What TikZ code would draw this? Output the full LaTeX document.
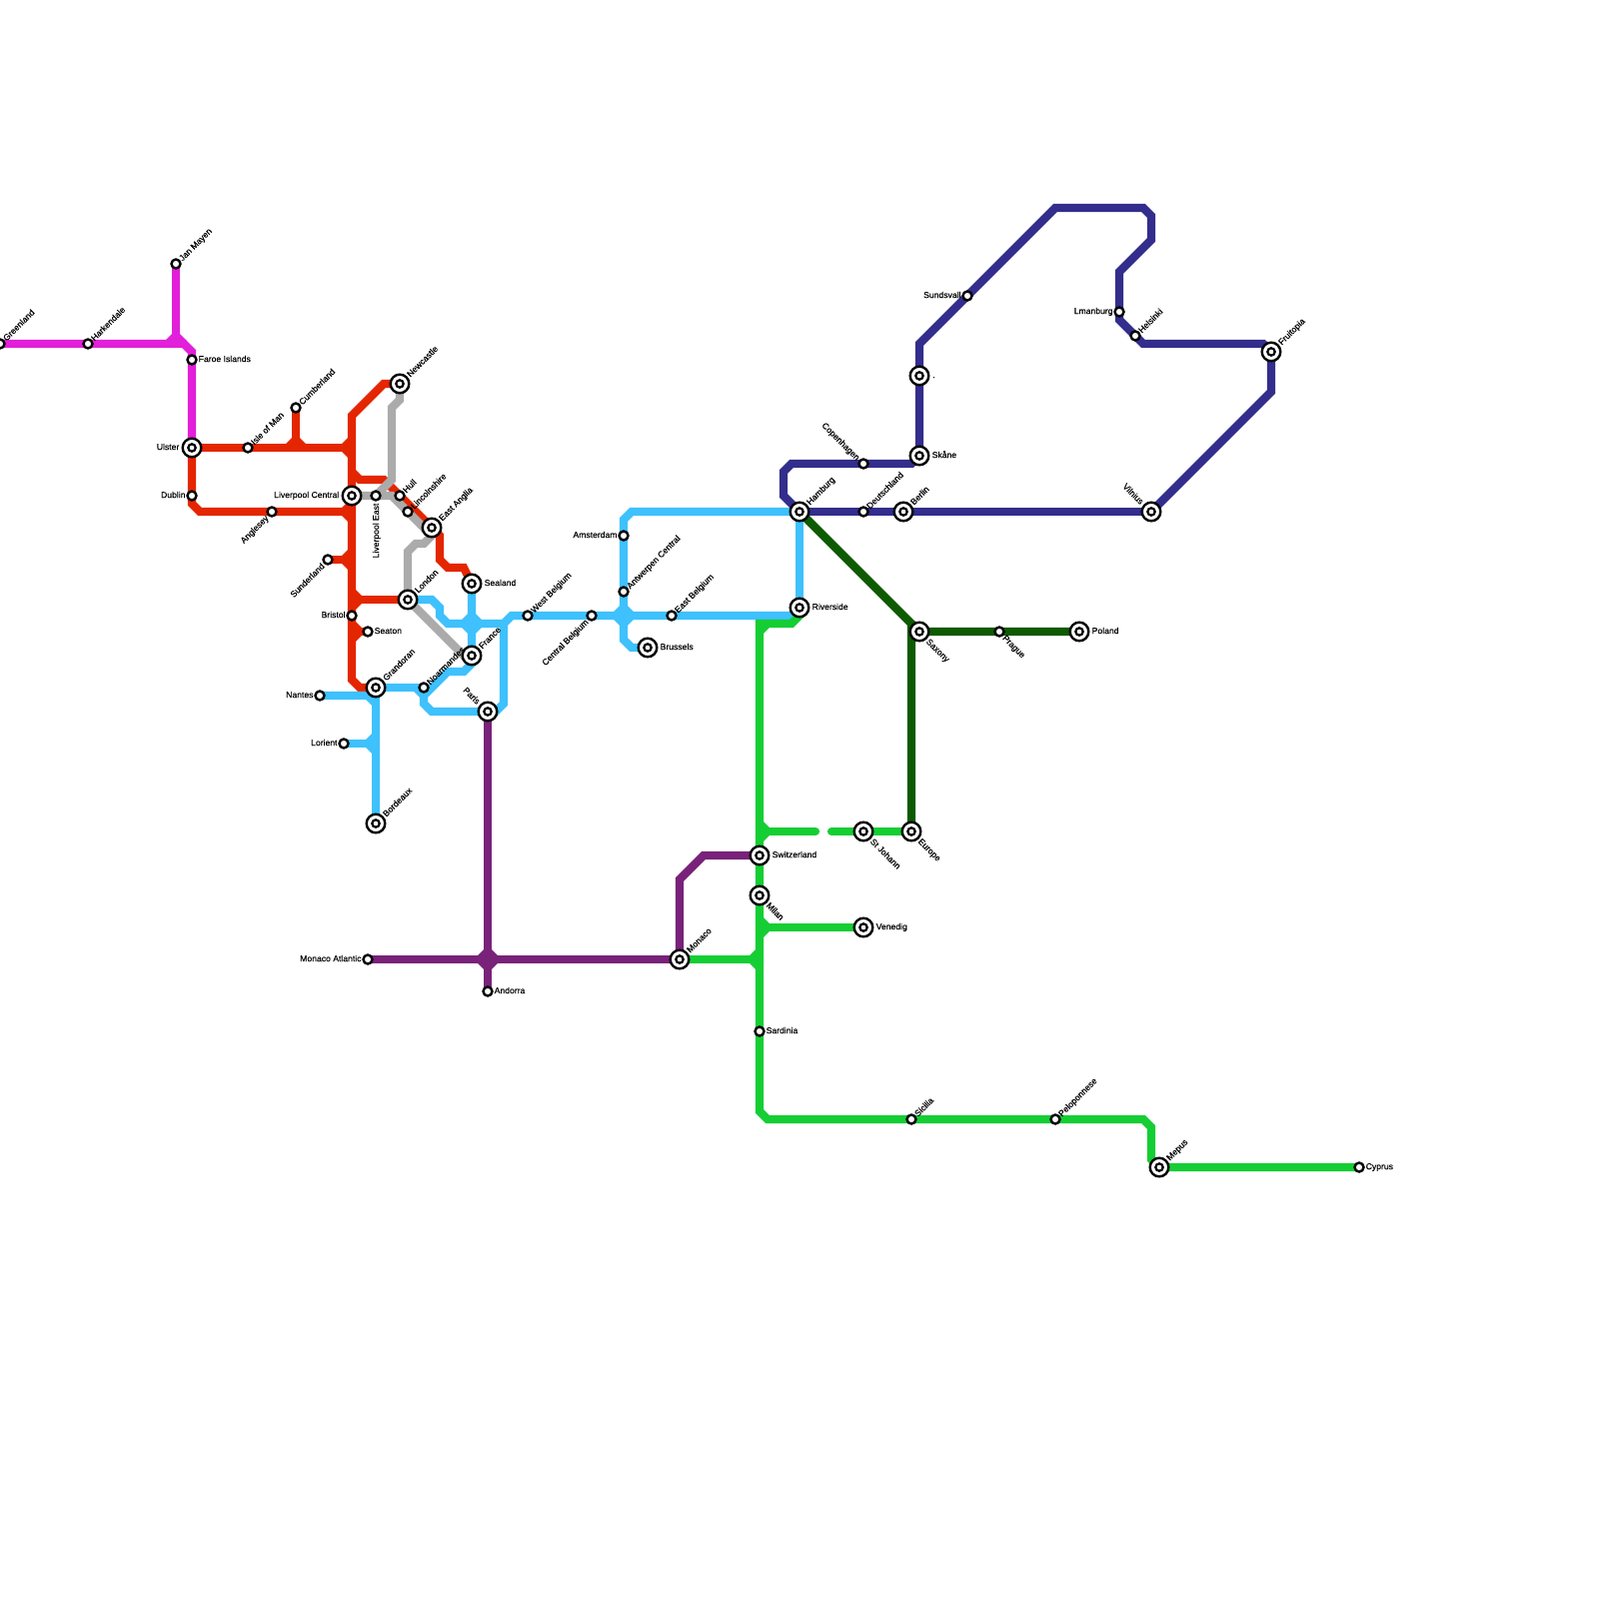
\documentclass[tikz,border=0pt]{standalone}
\usepackage{fontspec}
\setmainfont{Liberation Sans}
\newfontfamily\lblfont[FakeBold=0.25]{Liberation Sans}
\usepackage{tikz}
\usetikzlibrary{backgrounds}
\definecolor{lineMagenta}{RGB}{226,31,217}
\definecolor{lineRed}{RGB}{228,38,0}
\definecolor{lineGray}{RGB}{171,171,171}
\definecolor{lineBlue}{RGB}{62,193,252}
\definecolor{linePurple}{RGB}{121,34,122}
\definecolor{lineNavy}{RGB}{51,45,140}
\definecolor{lineForest}{RGB}{14,90,2}
\definecolor{lineGreen}{RGB}{21,206,52}
\tikzset{
  metro/.style={draw=#1, line width=0.082cm, line join=miter},
  stn/.style={circle, draw=black, fill=white, line width=0.024cm,
              minimum size=0.09cm, inner sep=0pt},
  hub/.style={stn, minimum size=0.186cm,
              path picture={\draw[black, line width=0.022cm]
                (path picture bounding box.center) circle (0.037cm);}},
  lbl/.style={inner sep=0pt, font=\lblfont\fontsize{2.45}{3}\selectfont,
              text height=0.062cm, text depth=0pt},
  lblr/.style={lbl, xshift=#1, yshift=0.01cm, anchor=west},
  lblr/.default=0.06cm,
  lbll/.style={lbl, xshift=-#1, yshift=0.01cm, anchor=east},
  lbll/.default=0.058cm,
  lblne/.style={lbl, xshift=#1, yshift=#1, rotate=45, anchor=west},
  lblne/.default=0.04cm,
  lblse/.style={lbl, xshift=#1, yshift=-#1, rotate=-45, anchor=west},
  lblse/.default=0.045cm,
  lblnw/.style={lbl, xshift=-#1, yshift=#1, rotate=-45, anchor=east},
  lblnw/.default=0.045cm,
  lblsw/.style={lbl, xshift=-#1, yshift=-#1, rotate=45, anchor=east},
  lblsw/.default=0.045cm,
}
\begin{document}
\begin{tikzpicture}[x=0.08cm, y=-0.08cm]
  \useasboundingbox (0,0) rectangle (200,200);

  % north west
  \node[stn] (sGreenland)  at (0,43)  {};
  \node[stn] (sHarkendale) at (11,43) {};
  \node[stn] (sJanMayen)   at (22,33) {};
  \node[stn] (sFaroe)      at (24,45) {};
  \node[hub] (sUlster)     at (24,56) {};
  \node[stn] (sDublin)     at (24,62) {};
  \node[stn] (sIsleOfMan)  at (31,56) {};
  \node[stn] (sAnglesey)   at (34,64) {};
  \node[stn] (sCumberland) at (37,51) {};
  \node[stn] (sSunderland) at (41,70) {};
  \node[hub] (sLivCentral) at (44,62) {};
  \node[stn] (sLivEast)    at (47,62) {};
  \node[stn] (sHull)       at (50,62) {};
  \node[stn] (sLincoln)    at (51,64) {};
  \node[hub] (sNewcastle)  at (50,48) {};
  \node[hub] (sEastAnglia) at (54,66) {};
  \node[hub] (sSealand)    at (59,73) {};
  \node[hub] (sLondon)     at (51,75) {};
  \node[stn] (sBristol)    at (44,77) {};
  \node[stn] (sSeaton)     at (46,79) {};
  \node[hub] (sGrandoran)  at (47,86) {};
  \node[stn] (sNantes)     at (40,87) {};
  \node[stn] (sLorient)    at (43,93) {};
  \node[hub] (sBordeaux)   at (47,103) {};
  \node[stn] (sNoarmandes) at (53,86) {};
  \node[hub] (sFrance)     at (59,82) {};
  \node[hub] (sParis)      at (61,89) {};

  % belgium and the middle
  \node[stn] (sWestBelgium)    at (66,77) {};
  \node[stn] (sCentralBelgium) at (74,77) {};
  \node[stn] (sAmsterdam)      at (78,67) {};
  \node[stn] (sAntwerpen)      at (78,74) {};
  \node[stn] (sEastBelgium)    at (84,77) {};
  \node[hub] (sBrussels)       at (81,81) {};
  \node[hub] (sHamburg)        at (100,64) {};
  \node[hub] (sRiverside)      at (100,76) {};

  % south
  \node[stn] (sMonacoAtlantic) at (46,120) {};
  \node[stn] (sAndorra)        at (61,124) {};
  \node[hub] (sMonaco)         at (85,120) {};
  \node[hub] (sSwitzerland)    at (95,107) {};
  \node[hub] (sMilan)          at (95,112) {};
  \node[stn] (sSardinia)       at (95,129) {};
  \node[hub] (sStJohann)       at (108,104) {};
  \node[hub] (sVenedig)        at (108,116) {};
  \node[hub] (sEurope)         at (114,104) {};
  \node[stn] (sSicilia)        at (114,140) {};
  \node[stn] (sPeloponnese)    at (132,140) {};
  \node[hub] (sMepus)          at (145,146) {};
  \node[stn] (sCyprus)         at (170,146) {};

  % north east
  \node[stn] (sCopenhagen)  at (108,58) {};
  \node[stn] (sDeutschland) at (108,64) {};
  \node[hub] (sBerlin)      at (113,64) {};
  \node[hub] (sSkane)       at (115,57) {};
  \node[hub] (sDot)         at (115,47) {};
  \node[stn] (sSundsvall)   at (121,37) {};
  \node[stn] (sLmanburg)    at (140,39) {};
  \node[stn] (sHelsinki)    at (142,42) {};
  \node[hub] (sFruitopia)   at (159,44) {};
  \node[hub] (sVilnius)     at (144,64) {};
  \node[hub] (sSaxony)      at (115,79) {};
  \node[stn] (sPrague)      at (125,79) {};
  \node[hub] (sPoland)      at (135,79) {};

  % junctions on the lines
  \coordinate (jJanMayen)   at (22,42);
  \coordinate (jCumberland) at (37,55);
  \coordinate (jNorthRed)   at (43,56);
  \coordinate (jMidRed)     at (43,64);
  \coordinate (jSunderland) at (43,70);
  \coordinate (jHullRed)    at (45,60);
  \coordinate (jLondonRed)  at (45,75);
  \coordinate (jSeatonRed)  at (45,79);
  \coordinate (jGrayFork)   at (47,62);
  \coordinate (jGrayEast)   at (49,62);
  \coordinate (jSealand)    at (59,78);
  \coordinate (jEastBlue)   at (63,78);
  \coordinate (jAntwerpen)  at (78,77);
  \coordinate (jNantes)     at (46,87);
  \coordinate (jNoarmandes) at (53,87);
  \coordinate (jLorient)    at (46,93);
  \coordinate (jAndorra)    at (61,120);
  \coordinate (jGreenTop)   at (95,78);
  \coordinate (jGreenEnd)   at (102,104);
  \coordinate (jGreenStart) at (104,104);
  \coordinate (jStJohann)   at (96,104);
  \coordinate (jVenedig)    at (96,116);
  \coordinate (jMonaco)     at (94,120);
  \coordinate (jForest)     at (114,78);

  \begin{scope}[on background layer]
    % magenta
    \draw[metro=lineMagenta] (sGreenland.center) -- (sHarkendale.center) -- (23,43) -- (24,44) -- (sFaroe.center) -- (sUlster.center);
    \draw[metro=lineMagenta] (sJanMayen.center) -- (jJanMayen);
    \draw[metro=lineMagenta] (jJanMayen) ++(-1,1) -- ++(1,-1) -- ++(1,1);

    % red
    \draw[metro=lineRed] (sUlster.center) -- (sIsleOfMan.center) -- (jNorthRed);
    \draw[metro=lineRed] (jNorthRed) ++(1,-1) -- ++(-1,1) -- ++(1,1);
    \draw[metro=lineRed] (sCumberland.center) -- (jCumberland);
    \draw[metro=lineRed] (jCumberland) ++(-1,1) -- ++(1,-1) -- ++(1,1);
    \draw[metro=lineRed] (sUlster.center) -- (sDublin.center) -- (24,63) -- (25,64) -- (sAnglesey.center) -- (jMidRed);
    \draw[metro=lineRed] (jMidRed) ++(1,-1) -- ++(-1,1) -- ++(1,1);
    \draw[metro=lineRed] (sSunderland.center) -- (jSunderland);
    \draw[metro=lineRed] (jSunderland) ++(1,-1) -- ++(-1,1) -- ++(1,1);
    \draw[metro=lineRed] (sNewcastle.center) -- (48,48) -- (44,52) -- (sLivCentral.center) -- (sBristol.center) -- (44,85) -- (45,86) -- (sGrandoran.center);
    \draw[metro=lineRed] (44,59) -- (jHullRed) -- (48,60) -- (sEastAnglia.center) -- (55,67) -- (55,70) -- (56,71) -- (58,71) -- (sSealand.center);
    \draw[metro=lineRed] (jLondonRed) ++(-1,-1) -- ++(1,1) -- ++(-1,1);
    \draw[metro=lineRed] (jLondonRed) -- (sLondon.center);
    \draw[metro=lineRed] (jSeatonRed) ++(-1,-1) -- ++(1,1) -- ++(-1,1);
    \draw[metro=lineRed] (jSeatonRed) -- (sSeaton.center);

    % gray
    \draw[metro=lineGray] (sNewcastle.center) -- (50,50) -- (49,51) -- (49,60) -- (jGrayFork) -- (sLivEast.center) -- (sLivCentral.center);
    \draw[metro=lineGray] (jGrayFork) -- (jGrayEast) -- (53,66) -- (sEastAnglia.center);
    \draw[metro=lineGray] (sEastAnglia.center) -- (54,67) -- (53,68) -- (52,68) -- (51,69) -- (sLondon.center);
    \draw[metro=lineGray] (sLondon.center) -- (58,82) -- (sFrance.center);

    % blue
    \draw[metro=lineBlue] (sLondon.center) -- (54,75) -- (55,76) -- (55,77) -- (56,78) -- (jEastBlue) -- (64,77) -- (sWestBelgium.center) -- (sCentralBelgium.center) -- (sEastBelgium.center) -- (99,77) -- (sRiverside.center);
    \draw[metro=lineBlue] (sSealand.center) -- (sFrance.center) -- (59,83) -- (58,84) -- (56,84) -- (jNoarmandes) -- (53,88) -- (54,89) -- (sParis.center);
    \draw[metro=lineBlue] (jSealand) ++(-1,0) -- ++(1,-1) -- ++(1,1) -- ++(-1,1) -- cycle;
    \draw[metro=lineBlue] (jEastBlue) -- (63,88) -- (62,89) -- (sParis.center);
    \draw[metro=lineBlue] (sGrandoran.center) -- (sNoarmandes.center);
    \draw[metro=lineBlue] (52,86) -- (jNoarmandes);
    \draw[metro=lineBlue] (sNantes.center) -- (jNantes) -- (47,88);
    \draw[metro=lineBlue] (sGrandoran.center) -- (sBordeaux.center);
    \draw[metro=lineBlue] (sLorient.center) -- (jLorient);
    \draw[metro=lineBlue] (jLorient) ++(1,-1) -- ++(-1,1) -- ++(1,1);
    \draw[metro=lineBlue] (sHamburg.center) -- (79,64) -- (78,65) -- (sAmsterdam.center) -- (sAntwerpen.center) -- (78,80) -- (79,81) -- (sBrussels.center);
    \draw[metro=lineBlue] (jAntwerpen) ++(-1,0) -- ++(1,-1) -- ++(1,1) -- ++(-1,1) -- cycle;
    \draw[metro=lineBlue] (sHamburg.center) -- (sRiverside.center);

    % purple
    \draw[metro=linePurple] (sParis.center) -- (sAndorra.center);
    \draw[metro=linePurple] (sMonacoAtlantic.center) -- (sMonaco.center);
    \draw[metro=linePurple] (jAndorra) ++(-1,0) -- ++(1,-1) -- ++(1,1) -- ++(-1,1) -- cycle;
    \draw[metro=linePurple] (sMonaco.center) -- (85,110) -- (88,107) -- (sSwitzerland.center);

    % green
    \draw[metro=lineGreen] (sRiverside.center) -- (100,77) -- (99,78) -- (jGreenTop) -- (sSwitzerland.center) -- (sMilan.center) -- (sSardinia.center) -- (95,139) -- (96,140) -- (sSicilia.center) -- (sPeloponnese.center) -- (143,140) -- (144,141) -- (144,145) -- (sMepus.center) -- (sCyprus.center);
    \draw[metro=lineGreen] (jGreenTop) ++(0,1) -- ++(1,-1);
    \draw[metro=lineGreen, line cap=round] (jStJohann) -- (jGreenEnd);
    \draw[metro=lineGreen] (jStJohann) ++(-1,-1) -- ++(1,1) -- ++(-1,1);
    \draw[metro=lineGreen, line cap=round] (jGreenStart) -- (sStJohann.center);
    \draw[metro=lineGreen] (sStJohann.center) -- (sEurope.center);
    \draw[metro=lineGreen] (sVenedig.center) -- (jVenedig);
    \draw[metro=lineGreen] (jVenedig) ++(-1,-1) -- ++(1,1) -- ++(-1,1);
    \draw[metro=lineGreen] (sMonaco.center) -- (jMonaco);
    \draw[metro=lineGreen] (jMonaco) ++(1,-1) -- ++(-1,1) -- ++(1,1);

    % forest
    \draw[metro=lineForest] (sHamburg.center) -- (jForest) -- (sEurope.center);
    \draw[metro=lineForest] (jForest) -- (sSaxony.center) -- (sPrague.center) -- (sPoland.center);

    % navy
    \draw[metro=lineNavy] (sHamburg.center) -- (98,62) -- (98,59) -- (99,58) -- (sCopenhagen.center) -- (114,58) -- (sSkane.center) -- (sDot.center) -- (115,43) -- (sSundsvall.center) -- (132,26) -- (143,26) -- (144,27) -- (144,30) -- (140,34) -- (sLmanburg.center) -- (140,40) -- (sHelsinki.center) -- (143,43) -- (158,43) -- (sFruitopia.center) -- (159,49) -- (sVilnius.center);
    \draw[metro=lineNavy] (sHamburg.center) -- (sDeutschland.center) -- (sBerlin.center) -- (sVilnius.center);
  \end{scope}

  % labels
  \node[lblne] (tGreenland) at (sGreenland) {Greenland};
  \node[lblne] (tHarkendale) at (sHarkendale) {Harkendale};
  \node[lblne] (tJanMayen) at (sJanMayen) {Jan Mayen};
  \node[lblr] (tFaroe) at (sFaroe) {Faroe Islands};
  \node[lbll=0.12cm] (tUlster) at (sUlster) {Ulster};
  \node[lbll] (tDublin) at (sDublin) {Dublin};
  \node[lblne] (tIsleOfMan) at (sIsleOfMan) {Isle of Man};
  \node[lblsw] (tAnglesey) at (sAnglesey) {Anglesey};
  \node[lblne] (tCumberland) at (sCumberland) {Cumberland};
  \node[lblsw] (tSunderland) at (sSunderland) {Sunderland};
  \node[lbll=0.12cm] (tLivCentral) at (sLivCentral) {Liverpool Central};
  \node[lbl, yshift=-0.07cm, rotate=90, anchor=east] (tLivEast) at (sLivEast) {Liverpool East};
  \node[lblne] (tHull) at (sHull) {Hull};
  \node[lblne] (tLincoln) at (sLincoln) {Lincolnshire};
  \node[lblne=0.08cm] (tNewcastle) at (sNewcastle) {Newcastle};
  \node[lblne=0.08cm] (tEastAnglia) at (sEastAnglia) {East Anglia};
  \node[lblr=0.12cm] (tSealand) at (sSealand) {Sealand};
  \node[lblne=0.08cm] (tLondon) at (sLondon) {London};
  \node[lbll] (tBristol) at (sBristol) {Bristol};
  \node[lblr] (tSeaton) at (sSeaton) {Seaton};
  \node[lblne=0.08cm] (tGrandoran) at (sGrandoran) {Grandoran};
  \node[lbll] (tNantes) at (sNantes) {Nantes};
  \node[lbll] (tLorient) at (sLorient) {Lorient};
  \node[lblne=0.08cm] (tBordeaux) at (sBordeaux) {Bordeaux};
  \node[lblne] (tNoarmandes) at (sNoarmandes) {Noarmandes};
  \node[lblne=0.08cm] (tFrance) at (sFrance) {France};
  \node[lblnw=0.085cm] (tParis) at (sParis) {Paris};
  \node[lblne] (tWestBelgium) at (sWestBelgium) {West Belgium};
  \node[lblsw] (tCentralBelgium) at (sCentralBelgium) {Central Belgium};
  \node[lbll] (tAmsterdam) at (sAmsterdam) {Amsterdam};
  \node[lblne] (tAntwerpen) at (sAntwerpen) {Antwerpen Central};
  \node[lblne] (tEastBelgium) at (sEastBelgium) {East Belgium};
  \node[lblr=0.12cm] (tBrussels) at (sBrussels) {Brussels};
  \node[lblne=0.08cm] (tHamburg) at (sHamburg) {Hamburg};
  \node[lblr=0.12cm] (tRiverside) at (sRiverside) {Riverside};
  \node[lbll] (tMonacoAtlantic) at (sMonacoAtlantic) {Monaco Atlantic};
  \node[lblr] (tAndorra) at (sAndorra) {Andorra};
  \node[lblne=0.08cm] (tMonaco) at (sMonaco) {Monaco};
  \node[lblr=0.12cm] (tSwitzerland) at (sSwitzerland) {Switzerland};
  \node[lblse=0.08cm] (tMilan) at (sMilan) {Milan};
  \node[lblr] (tSardinia) at (sSardinia) {Sardinia};
  \node[lblse=0.08cm] (tStJohann) at (sStJohann) {St Johann};
  \node[lblr=0.12cm] (tVenedig) at (sVenedig) {Venedig};
  \node[lblse=0.08cm] (tEurope) at (sEurope) {Europe};
  \node[lblne] (tSicilia) at (sSicilia) {Sicilia};
  \node[lblne] (tPeloponnese) at (sPeloponnese) {Peloponnese};
  \node[lblne=0.08cm] (tMepus) at (sMepus) {Mepus};
  \node[lblr] (tCyprus) at (sCyprus) {Cyprus};
  \node[lblnw] (tCopenhagen) at (sCopenhagen) {Copenhagen};
  \node[lblne] (tDeutschland) at (sDeutschland) {Deutschland};
  \node[lblne=0.08cm] (tBerlin) at (sBerlin) {Berlin};
  \node[lblr=0.12cm] (tSkane) at (sSkane) {Skåne};
  \node[lblr=0.12cm] (tDot) at (sDot) {.};
  \node[lbll] (tSundsvall) at (sSundsvall) {Sundsvall};
  \node[lbll] (tLmanburg) at (sLmanburg) {Lmanburg};
  \node[lblne] (tHelsinki) at (sHelsinki) {Helsinki};
  \node[lblne=0.08cm] (tFruitopia) at (sFruitopia) {Fruitopia};
  \node[lblnw=0.085cm] (tVilnius) at (sVilnius) {Vilnius};
  \node[lblse=0.08cm] (tSaxony) at (sSaxony) {Saxony};
  \node[lblse] (tPrague) at (sPrague) {Prague};
  \node[lblr=0.12cm] (tPoland) at (sPoland) {Poland};
\end{tikzpicture}
\end{document}
